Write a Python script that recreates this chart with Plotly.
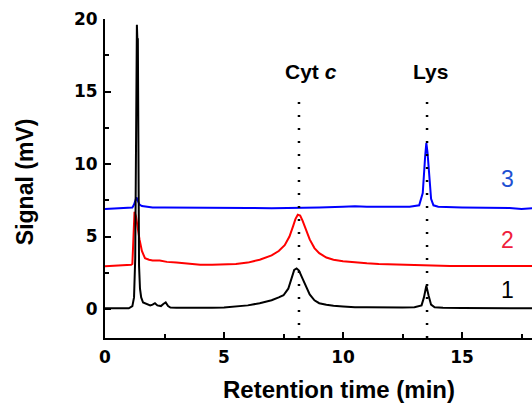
import plotly.graph_objects as go

# ---- data ----
t1 = [0, 0.5, 1.0, 1.15, 1.22, 1.27, 1.30, 1.32, 1.34, 1.36, 1.38, 1.40, 1.43, 1.47, 1.52, 1.6, 1.75,
      1.9, 2.0, 2.1, 2.2, 2.35, 2.45, 2.55, 2.65, 2.75, 3.0, 3.5, 4.0, 4.5, 5.0, 5.5, 6.0, 6.5, 7.0,
      7.3, 7.5, 7.7, 7.85, 7.95, 8.05, 8.15, 8.3, 8.45, 8.6, 8.8, 9.0, 9.3, 9.6, 10.0, 10.5, 11.0,
      11.5, 12.0, 12.5, 13.0, 13.3, 13.4, 13.5, 13.6, 13.7, 13.85, 14.2, 15, 16, 17, 17.5, 18]
s1 = [0.05, 0.05, 0.05, 0.2, 0.8, 3.5, 8.7, 16.0, 19.6, 18.6, 18.6, 8.0, 3.0, 1.4, 0.8, 0.45, 0.35,
      0.25, 0.3, 0.4, 0.25, 0.2, 0.35, 0.45, 0.2, 0.1, 0.08, 0.07, 0.08, 0.08, 0.1, 0.15, 0.25, 0.4, 0.6,
      0.8, 0.95, 1.4, 2.2, 2.7, 2.8, 2.65, 2.1, 1.5, 1.0, 0.6, 0.4, 0.3, 0.22, 0.18, 0.12, 0.12,
      0.1, 0.1, 0.1, 0.12, 0.25, 0.8, 1.6, 0.9, 0.3, 0.12, 0.08, 0.07, 0.07, 0.07, 0.02, 0.05]

t2 = [0, 0.5, 1.0, 1.1, 1.15, 1.2, 1.24, 1.3, 1.37, 1.45, 1.55, 1.68, 1.85, 2.0, 2.3, 2.6, 3.0, 3.5,
      4.0, 4.5, 5.0, 5.5, 6.0, 6.5, 7.0, 7.3, 7.55, 7.75, 7.9, 8.0, 8.1, 8.2, 8.3, 8.45, 8.6, 8.8,
      9.0, 9.3, 9.6, 10.0, 10.5, 11.0, 11.5, 12.0, 12.5, 13.0, 13.5, 13.7, 14.5, 15.5, 16.5, 17.5, 18]
s2 = [2.95, 3.0, 3.0, 3.05, 3.1, 5.0, 6.7, 6.4, 5.6, 4.8, 4.0, 3.5, 3.4, 3.35, 3.35, 3.25, 3.2, 3.1,
      3.05, 3.05, 3.05, 3.1, 3.2, 3.4, 3.7, 4.0, 4.4, 5.0, 5.7, 6.2, 6.5, 6.45, 6.1, 5.4, 4.8, 4.2,
      3.85, 3.55, 3.4, 3.3, 3.2, 3.15, 3.1, 3.07, 3.05, 3.03, 3.03, 2.97, 2.97, 2.97, 2.97, 2.97, 2.97]

t3 = [0, 0.5, 1.0, 1.15, 1.22, 1.28, 1.32, 1.38, 1.45, 1.55, 1.7, 2.0, 2.5, 3, 4, 5, 5.5, 6.0, 7, 8,
      9, 10, 10.5, 11, 12, 12.8, 13.2, 13.35, 13.45, 13.5, 13.55, 13.62, 13.7, 13.8, 14.0, 15, 16,
      17, 17.5, 18]
s3 = [6.9, 6.95, 6.95, 7.0, 7.2, 7.6, 7.7, 7.45, 7.2, 7.1, 7.05, 7.0, 7.0, 7.0, 7.0, 7.0, 7.02, 6.97,
      6.95, 6.95, 7.0, 7.05, 7.08, 7.05, 7.05, 7.05, 7.15, 8.0, 10.5, 11.45, 10.8, 9.0, 7.6, 7.15,
      7.05, 7.0, 7.0, 6.97, 6.9, 6.95]

peak_names = ["<b>Cyt <i>c</i></b>", "<b>Lys</b>"]
peak_times = [8.15, 13.53]

trace_labels = ["1", "2", "3"]
trace_colors = ["#000000", "#ff0000", "#0000ff"]
label_colors = ["#000000", "#f0203c", "#1e50d2"]

x_ticks = [0, 5, 10, 15]
y_ticks = [0, 5, 10, 15, 20]

fig = go.Figure()
series = [(t1, s1), (t2, s2), (t3, s3)]
for idx in [2, 1, 0]:
    tx, sy = series[idx]
    fig.add_trace(go.Scatter(x=tx, y=sy, mode="lines",
                             line=dict(color=trace_colors[idx], width=2),
                             showlegend=False, hoverinfo="skip"))

# dotted marker lines at the peaks
for pt in peak_times:
    fig.add_trace(go.Scatter(x=[pt, pt], y=[-2, 15], mode="lines",
                             line=dict(color="black", width=2.5, dash="2px,11px"),
                             showlegend=False, hoverinfo="skip"))

label_font = "Liberation Sans, Arial, sans-serif"
ann = []
for name, pt, dx in zip(peak_names, peak_times, [0.5, 0.13]):
    ann.append(dict(x=pt + dx, y=16.35, xref="x", yref="y", text=name, showarrow=False,
                    font=dict(family=label_font, size=21, color="black"),
                    xanchor="center", yanchor="middle"))
for lab, col, yv in zip(trace_labels, label_colors, [1.3, 4.75, 9.0]):
    ann.append(dict(x=16.92, y=yv, xref="x", yref="y", text=lab, showarrow=False,
                    font=dict(family=label_font, size=23, color=col),
                    xanchor="center", yanchor="middle"))
ann.append(dict(x=0.548, y=-0.163, xref="paper", yref="paper", text="<b>Retention time (min)</b>",
                showarrow=False, font=dict(family=label_font, size=24, color="black"),
                xanchor="center", yanchor="middle"))
ann.append(dict(x=-0.187, y=0.489, xref="paper", yref="paper", text="<b>Signal (mV)</b>",
                showarrow=False, textangle=-90,
                font=dict(family=label_font, size=23, color="black"),
                xanchor="center", yanchor="middle"))

tickfont = dict(family="DejaVu Sans, Verdana, sans-serif", size=17, color="black", weight="bold")

fig.update_layout(
    width=532, height=411,
    margin=dict(l=105, r=0, t=19, b=73, autoexpand=False),
    paper_bgcolor="white", plot_bgcolor="white",
    annotations=ann,
    xaxis=dict(range=[0, 17.94], tickvals=x_ticks, showline=True, linecolor="black", linewidth=2,
               ticks="inside", ticklen=6, tickwidth=2, tickcolor="black", ticklabelstandoff=3,
               minor=dict(ticks="inside", dtick=2.5, ticklen=4, tickwidth=2, tickcolor="black"),
               showgrid=False, zeroline=False, tickfont=tickfont),
    yaxis=dict(range=[-2, 20], tickvals=y_ticks, showline=True, linecolor="black", linewidth=2,
               ticks="inside", ticklen=6, tickwidth=2, tickcolor="black", ticklabelstandoff=2,
               minor=dict(ticks="inside", tick0=0, dtick=2.5, ticklen=4, tickwidth=2, tickcolor="black"),
               showgrid=False, zeroline=False, tickfont=tickfont),
)

fig.write_html("out.html")
